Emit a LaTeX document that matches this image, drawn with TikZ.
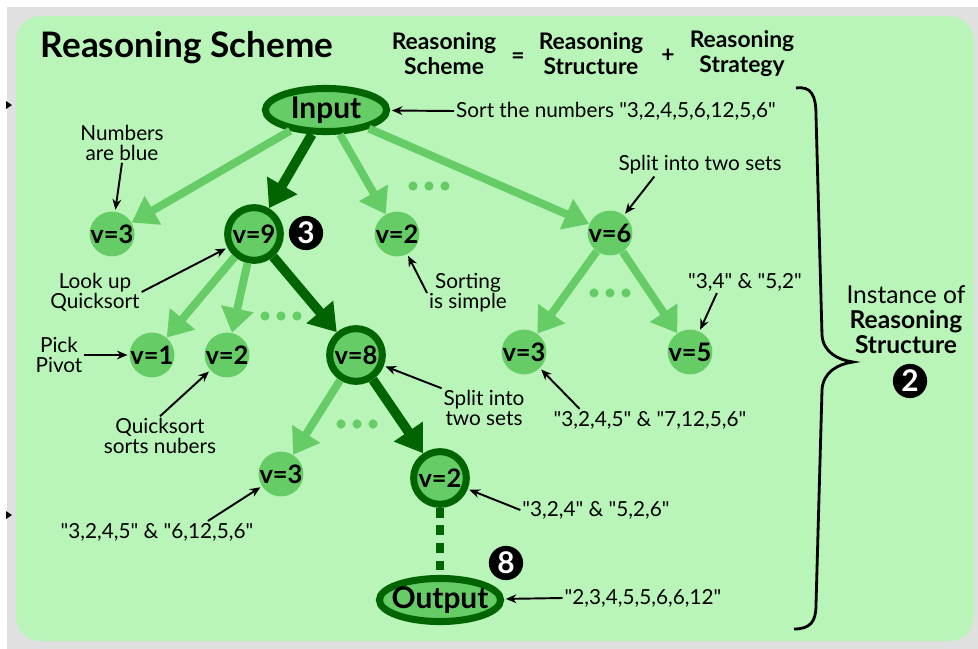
\documentclass[tikz,border=0pt]{standalone}
\usepackage{fontspec}
\setmainfont{Lato}
\usepackage{xcolor}
\usepackage{tikz}
\usetikzlibrary{arrows.meta}
\usetikzlibrary{shapes.geometric}
\usetikzlibrary{positioning}
\definecolor{paleg}{RGB}{185,245,185}
\definecolor{midg}{RGB}{102,204,102}
\definecolor{darkg}{RGB}{0,100,0}
\definecolor{rimgray}{RGB}{224,224,224}
\newcommand{\dq}{\textquotedbl}
\tikzset{
  vnode/.style={circle,fill=midg,minimum size=25.5pt,inner sep=0pt,font=\bfseries\fontsize{14.5}{14.5}\selectfont},
  vpath/.style={vnode,draw=darkg,line width=4pt,minimum size=30pt},
  term/.style={ellipse,fill=midg,draw=darkg,line width=4pt,minimum width=69pt,minimum height=24.5pt,inner sep=0pt,font=\bfseries\fontsize{17}{17}\selectfont},
  weak/.style={midg,line width=4.5pt,-{Triangle[width=18pt,length=14pt]}},
  strong/.style={darkg,line width=5.5pt,-{Triangle[width=19pt,length=15pt]}},
  note/.style={align=center,inner sep=1pt,font=\fontsize{11.8}{11.3}\selectfont},
  hint/.style={-{Stealth[length=6pt,width=5pt]},line width=1.1pt,shorten >=1pt},
  badge/.style={circle,fill=black,text=white,inner sep=0pt,minimum size=19.5pt,font=\bfseries\fontsize{17}{17}\selectfont},
  head/.style={align=center,font=\bfseries\fontsize{13}{14.2}\selectfont}
}
\begin{document}
\begin{tikzpicture}[x=0.02cm,y=-0.02cm]
\useasboundingbox (0,0) rectangle (978,649);
\fill[white] (0,0) rectangle (978,649);
\fill[rimgray] (7,7) rectangle (978,649);
\fill[paleg,rounded corners=14pt] (16,16) rectangle (974,641);
\fill (6,101) -- (12,105) -- (6,109) -- cycle;
\fill (6,511) -- (12,515) -- (6,519) -- cycle;

\node[font=\bfseries\fontsize{20}{20}\selectfont] (title) at (187,48) {Reasoning Scheme};
\node[head] (scheme) at (444,54) {Reasoning\\Scheme};
\node[head] (eq) at (518,58) {=};
\node[head] (structure) at (591,54) {Reasoning\\Structure};
\node[head] (plus) at (668,56) {+};
\node[head] (strategy) at (742,54) {Reasoning\\Strategy};

\node[term] (input) at (326,110) {\makebox[0pt]{Input}};
\node[vnode] (a1) at (112,234) {\makebox[0pt]{v=3}};
\node[vpath] (a2) at (254,234) {\makebox[0pt]{v=9}};
\node[vnode] (a3) at (397,234) {\makebox[0pt]{v=2}};
\node[vnode] (a4) at (610,233) {\makebox[0pt]{v=6}};
\node[vnode] (b1) at (152,355) {\makebox[0pt]{v=1}};
\node[vnode] (b2) at (227,355) {\makebox[0pt]{v=2}};
\node[vpath] (b3) at (356,355) {\makebox[0pt]{v=8}};
\node[vnode] (b4) at (524,352) {\makebox[0pt]{v=3}};
\node[vnode] (b5) at (690,352) {\makebox[0pt]{v=5}};
\node[vnode] (c1) at (281,474) {\makebox[0pt]{v=3}};
\node[vpath] (c2) at (440,478) {\makebox[0pt]{v=2}};
\node[term] (output) at (440,600) {\makebox[0pt]{Output}};

\draw[weak] (input) -- (a1);
\draw[weak] (input) -- (a3);
\draw[weak] (input) -- (a4);
\draw[weak] (a2) -- (b1);
\draw[weak] (a2) -- (b2);
\draw[weak] (a4) -- (b4);
\draw[weak] (a4) -- (b5);
\draw[weak] (b3) -- (c1);
\draw[strong] (input) -- (a2);
\draw[strong] (a2) -- (b3);
\draw[strong] (b3) -- (c2);
\draw[darkg,line width=4.5pt,dash pattern=on 5.5pt off 4.5pt] (c2) -- (output);
\foreach \x/\y in {429/186,281/316,610/293,357/424}
  \foreach \dx in {-16,0,16}
    \fill[midg] (\x+\dx,\y) circle (2.6pt);

\node[badge] (three) at (306,233) {3};
\node[badge] (eight) at (506,563) {8};

\node[note] (blue) at (122,143) {Numbers\\are blue};
\node[note] (lookup) at (95,292) {Look up\\Quicksort};
\node[note] (pivot) at (59,355) {Pick\\Pivot};
\node[note] (sorts) at (160,436) {Quicksort\\sorts nubers};
\node[note] (lowsplit) at (157,532) {\dq3,2,4,5\dq{} \& \dq6,12,5,6\dq};
\node[note] (simple) at (468,293) {Sorting\\is simple};
\node[note] (midsplit) at (484,408) {Split into\\two sets};
\node[note] (last) at (596,510) {\dq3,2,4\dq{} \& \dq5,2,6\dq};
\node[note] (result) at (643,598) {\dq2,3,4,5,5,6,6,12\dq};
\node[note] (task) at (616,111) {Sort the numbers \dq3,2,4,5,6,12,5,6\dq};
\node[note] (topsplit) at (700,165) {Split into two sets};
\node[note] (pairs) at (745,282) {\dq3,4\dq{} \& \dq5,2\dq};
\node[note] (rightsplit) at (650,420) {\dq3,2,4,5\dq{} \& \dq7,12,5,6\dq};

\draw[hint] (blue.south) -- (a1);
\draw[hint] (lookup.east) -- (a2);
\draw[hint] (pivot.east) -- (b1);
\draw[hint] (sorts.north) -- (b2);
\draw[hint] ([xshift=29pt]lowsplit.north) -- (c1);
\draw[hint] (simple.west) -- (a3);
\draw[hint] (midsplit.north west) -- (b3);
\draw[hint] (last.west) -- (c2);
\draw[hint] (result.west) -- (output);
\draw[hint] (task.west) -- (input);
\draw[hint] ([xshift=-26pt]topsplit.south) -- (a4);
\draw[hint] ([xshift=-16pt]pairs.south) -- (b5);
\draw[hint] ([xshift=-40pt]rightsplit.north) -- (b4);

\draw[line width=1.6pt] (796,88) .. controls (811,86) and (816,95) .. (816,115) -- (822,335) .. controls (823,352) and (838,360) .. (853,362) .. controls (838,364) and (823,372) .. (822,390) -- (816,605) .. controls (816,622) and (810,629) .. (794,629);
\node[align=center,font=\fontsize{14}{14.2}\selectfont] (inst) at (906,320) {Instance of\\\textbf{Reasoning}\\\textbf{Structure}};
\node[badge] (two) at (910,381) {2};
\end{tikzpicture}
\end{document}
